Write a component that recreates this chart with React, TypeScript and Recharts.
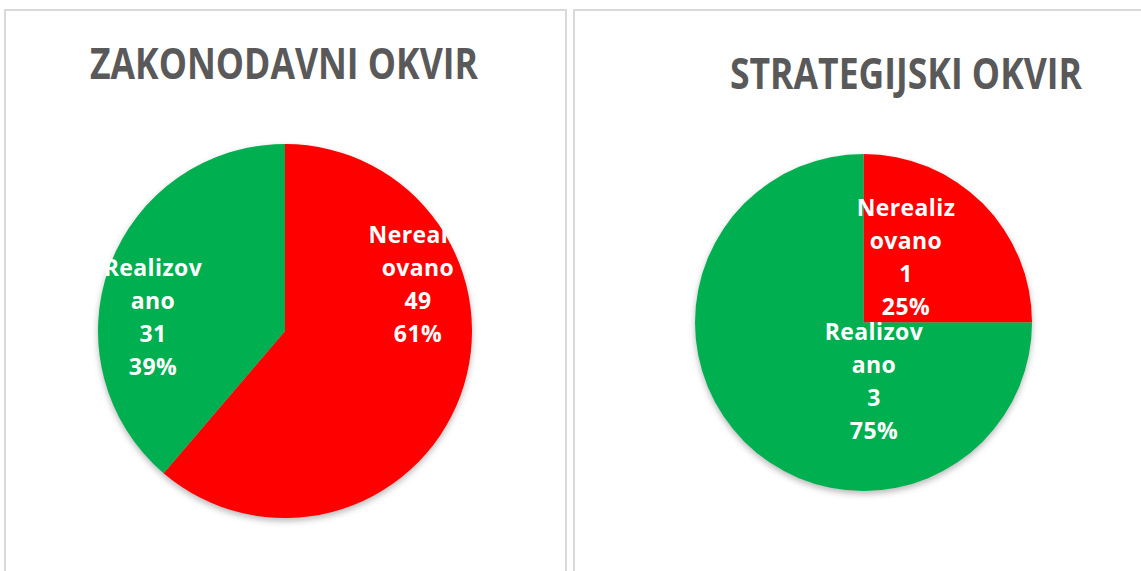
import { PieChart, Pie, Cell } from "recharts";

// legislative framework
const zakonNames = ["Nerealizovano", "Realizovano"];
const zakonValues = [49, 31];

// strategic framework
const stratNames = ["Nerealizovano", "Realizovano"];
const stratValues = [1, 3];

const titles = ["ZAKONODAVNI OKVIR", "STRATEGIJSKI OKVIR"];

const sliceColors: Record<string, string> = {
  Nerealizovano: "#ff0000",
  Realizovano: "#00b050",
};

const zakonData = zakonNames.map((name, i) => ({ name, value: zakonValues[i] }));
const stratData = stratNames.map((name, i) => ({ name, value: stratValues[i] }));

// where Excel put each label block, as a share of the radius from the centre
const zakonLabelSpots = [
  [0.711, -0.251],
  [-0.706, -0.075],
];
const stratLabelSpots = [
  [0.252, -0.389],
  [0.062, 0.35],
];

const LINE_GAP = 33;
const LABEL_SIZE = 23;

// Excel wraps the category name at the label width
function wrapName(name: string) {
  return [name.slice(0, 8), name.slice(8)].filter(Boolean);
}

function makeLabel(spots: number[][]) {
  return (props: any) => {
    const { cx, cy, outerRadius, index, name, value, percent } = props;
    const [fx, fy] = spots[index];
    const x = cx + fx * outerRadius;
    const y = cy + fy * outerRadius;
    const lines = [...wrapName(name), String(value), `${Math.round(percent * 100)}%`];
    return (
      <text
        key={`lbl-${index}`}
        x={x}
        y={y}
        fill="#ffffff"
        textAnchor="middle"
        fontFamily="'Open Sans', sans-serif"
        fontWeight={700}
        fontSize={LABEL_SIZE}
        letterSpacing={0.4}
      >
        {lines.map((line, i) => (
          <tspan
            key={i}
            x={x}
            y={y + (i - (lines.length - 1) / 2) * LINE_GAP + LABEL_SIZE * 0.357}
          >
            {line}
          </tspan>
        ))}
      </text>
    );
  };
}

function Title({ text, x, baseline, width }: { text: string; x: number; baseline: number; width: number }) {
  return (
    <text
      x={x}
      y={baseline}
      textLength={width}
      lengthAdjust="spacingAndGlyphs"
      fill="#595959"
      fontFamily="'Open Sans', sans-serif"
      fontWeight={700}
      fontSize={43}
    >
      {text}
    </text>
  );
}

export default function App() {
  return (
    <div
      style={{
        position: "absolute",
        left: 0,
        top: 0,
        width: 1141,
        height: 571,
        overflow: "hidden",
        background: "#ffffff",
      }}
    >
      <style>{".okvir .recharts-pie { filter: drop-shadow(0px 3px 3px rgba(0,0,0,0.28)); }"}</style>
      <div
        style={{
          position: "absolute",
          left: 4,
          top: 9,
          width: 559,
          height: 600,
          border: "2px solid #d9d9d9",
        }}
      />
      <div
        style={{
          position: "absolute",
          left: 573,
          top: 9,
          width: 600,
          height: 600,
          border: "2px solid #d9d9d9",
        }}
      />
      <div className="okvir" style={{ position: "absolute", left: 0, top: 0 }}>
        <PieChart width={1141} height={571} margin={{ top: 0, right: 0, bottom: 0, left: 0 }}>
          <Pie
            data={zakonData}
            dataKey="value"
            nameKey="name"
            cx={285}
            cy={331}
            outerRadius={187}
            startAngle={90}
            endAngle={-270}
            stroke="none"
            labelLine={false}
            label={makeLabel(zakonLabelSpots)}
            isAnimationActive={false}
          >
            {zakonData.map((d) => (
              <Cell key={d.name} fill={sliceColors[d.name]} />
            ))}
          </Pie>
          <Pie
            data={stratData}
            dataKey="value"
            nameKey="name"
            cx={863.5}
            cy={322.5}
            outerRadius={168.5}
            startAngle={90}
            endAngle={-270}
            stroke="none"
            labelLine={false}
            label={makeLabel(stratLabelSpots)}
            isAnimationActive={false}
          >
            {stratData.map((d) => (
              <Cell key={d.name} fill={sliceColors[d.name]} />
            ))}
          </Pie>
        </PieChart>
      </div>
      <svg
        width={1141}
        height={571}
        style={{ position: "absolute", left: 0, top: 0, pointerEvents: "none" }}
      >
        <Title text={titles[0]} x={90} baseline={79} width={388} />
        <Title text={titles[1]} x={730} baseline={89} width={352} />
      </svg>
    </div>
  );
}
